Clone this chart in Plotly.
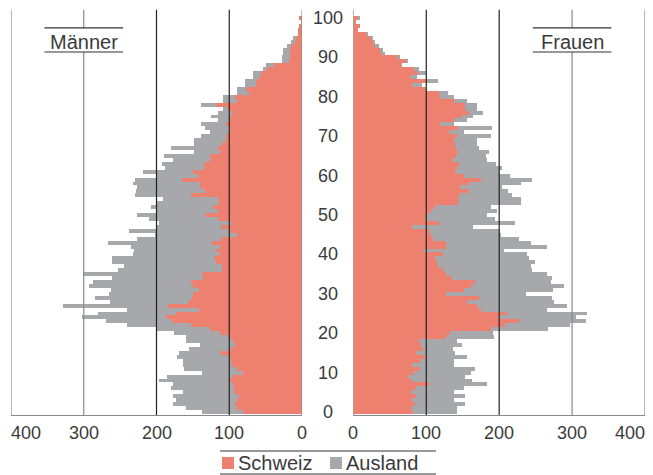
import plotly.graph_objects as go

ages = list(range(0, 101))
age_ticks = list(range(0, 101, 10))
x_ticks = [0, 100, 200, 300, 400]

# Männer (ages 0..100)
m_schweiz = [81, 89, 92, 89, 87, 94, 94, 95, 100, 96,
             81, 89, 96, 98, 100, 113, 97, 92, 95, 100,
             113, 127, 152, 179, 187, 173, 141, 184, 157, 151,
             150, 141, 150, 153, 136, 138, 110, 110, 118, 121,
             114, 118, 113, 124, 111, 89, 101, 112, 97, 115,
             133, 115, 123, 114, 116, 153, 133, 140, 140, 165,
             143, 150, 135, 135, 127, 127, 113, 115, 110, 104,
             104, 100, 100, 104, 99, 98, 96, 102, 118, 89,
             92, 73, 77, 63, 63, 58, 57, 48, 39, 18,
             17, 17, 17, 15, 10, 8, 6, 6, 4, 2, 4]
m_ausland = [56, 71, 85, 84, 90, 70, 86, 82, 96, 89,
             57, 73, 68, 66, 72, 56, 59, 48, 64, 60,
             63, 73, 88, 90, 115, 107, 99, 144, 107, 133,
             115, 122, 143, 134, 125, 163, 143, 134, 143, 140,
             118, 113, 122, 143, 116, 113, 137, 88, 100, 96,
             94, 85, 85, 85, 75, 76, 95, 87, 92, 65,
             57, 69, 54, 57, 50, 63, 35, 65, 38, 44,
             35, 26, 33, 35, 16, 27, 20, 7, 21, 20,
             17, 16, 12, 15, 15, 9, 10, 5, 11, 10,
             11, 9, 9, 5, 5, 4, 0, 0, 0, 0, 0]

# Frauen (ages 0..100)
f_schweiz = [82, 80, 85, 81, 87, 80, 86, 104, 81, 76,
             84, 92, 81, 92, 99, 87, 96, 93, 90, 128,
             133, 189, 208, 228, 200, 211, 176, 170, 156, 173,
             128, 152, 162, 167, 136, 128, 123, 116, 115, 112,
             123, 97, 128, 128, 110, 107, 104, 81, 118, 100,
             101, 107, 112, 144, 144, 145, 159, 147, 159, 176,
             152, 140, 142, 145, 136, 141, 144, 141, 140, 139,
             142, 131, 144, 119, 138, 150, 159, 154, 153, 139,
             119, 118, 100, 81, 100, 78, 89, 84, 66, 72,
             60, 38, 37, 30, 27, 24, 18, 7, 10, 4, 7]
f_ausland = [60, 62, 68, 58, 66, 59, 66, 80, 82, 78,
             78, 75, 57, 47, 57, 53, 41, 57, 52, 66,
             59, 79, 89, 91, 106, 110, 90, 123, 119, 100,
             109, 122, 127, 104, 137, 138, 123, 128, 135, 130,
             116, 110, 138, 116, 117, 96, 97, 84, 104, 95,
             83, 91, 77, 87, 87, 73, 54, 57, 72, 69,
             63, 60, 62, 51, 48, 42, 43, 32, 30, 31,
             47, 21, 47, 19, 19, 15, 19, 16, 17, 18,
             20, 12, 0, 14, 16, 10, 11, 7, 1, 3,
             4, 6, 4, 5, 3, 3, 3, 0, 0, 0, 2]

series_names = ["Schweiz", "Ausland"]
panel_titles = ["Männer", "Frauen"]
c_ch = "#EE8070"
c_aus = "#A7A8AC"
txt = "#3a3a3a"
font_family = "Liberation Sans, Arial, sans-serif"

fig = go.Figure()
fig.add_trace(go.Bar(y=ages, x=m_schweiz, orientation="h", name=series_names[0],
                     marker=dict(color=c_ch, line=dict(width=0)),
                     xaxis="x", yaxis="y", hoverinfo="x+y"))
fig.add_trace(go.Bar(y=ages, x=m_ausland, orientation="h", name=series_names[1],
                     marker=dict(color=c_aus, line=dict(width=0)),
                     xaxis="x", yaxis="y", hoverinfo="x+y"))
fig.add_trace(go.Bar(y=ages, x=f_schweiz, orientation="h", name=series_names[0],
                     marker=dict(color=c_ch, line=dict(width=0)),
                     xaxis="x2", yaxis="y2", hoverinfo="x+y"))
fig.add_trace(go.Bar(y=ages, x=f_ausland, orientation="h", name=series_names[1],
                     marker=dict(color=c_aus, line=dict(width=0)),
                     xaxis="x2", yaxis="y2", hoverinfo="x+y"))

yr = [-0.76, 101.78]
axis_common = dict(showgrid=False, zeroline=False, showline=True, linecolor="#8a8a8a",
                   linewidth=1.2, ticks="", showticklabels=False, automargin=False)
fig.update_layout(
    width=653, height=475,
    margin=dict(l=11, r=8, t=11, b=60, autoexpand=False),
    paper_bgcolor="white", plot_bgcolor="white",
    barmode="stack", bargap=0,
    font=dict(family=font_family, color=txt),
    xaxis=dict(domain=[0, 0.459], range=[400, 0], anchor="y", **axis_common),
    xaxis2=dict(domain=[0.540, 1], range=[0, 400], anchor="y2", **axis_common),
    yaxis=dict(range=yr, showticklabels=False, showgrid=False, zeroline=False, anchor="x",
               automargin=False),
    yaxis2=dict(range=yr, showticklabels=False, showgrid=False, zeroline=False, anchor="x2",
                matches="y", automargin=False),
    showlegend=False,
)

shapes = []
lab_lo, lab_hi = 0.8985, 0.958
for xa in ["x", "x2"]:
    for v, col in [(0, "#8a8a8a"), (100, "#222222"), (200, "#222222"), (400, "#8a8a8a")]:
        shapes.append(dict(type="line", xref=xa, yref="paper", x0=v, x1=v, y0=0, y1=1.003,
                           line=dict(color=col, width=1.2), layer="above"))
    shapes.append(dict(type="line", xref=xa, yref="paper", x0=300, x1=300, y0=0, y1=lab_lo,
                       line=dict(color="#8a8a8a", width=1.2), layer="above"))
    shapes.append(dict(type="line", xref=xa, yref="paper", x0=300, x1=300, y0=lab_hi, y1=1.003,
                       line=dict(color="#8a8a8a", width=1.2), layer="above"))
    for yy in [lab_lo, lab_hi]:
        shapes.append(dict(type="line", xref=xa, yref="paper", x0=246, x1=354, y0=yy, y1=yy,
                           line=dict(color="#333333", width=1.2), layer="above"))

# manual legend (rules, swatches)
W, H, L, T = 634.0, 404.0, 11.0, 11.0
def px_x(px):
    return (px - L) / W
def px_y(py):
    return (T + H - py) / H

for py in [451, 474]:
    shapes.append(dict(type="line", xref="paper", yref="paper", x0=px_x(220), x1=px_x(436),
                       y0=px_y(py), y1=px_y(py), line=dict(color="#333333", width=1.2)))
legend_items = [(series_names[0], c_ch, 222), (series_names[1], c_aus, 330)]
for name, col, sx in legend_items:
    shapes.append(dict(type="rect", xref="paper", yref="paper", x0=px_x(sx), x1=px_x(sx + 12),
                       y0=px_y(469), y1=px_y(457), fillcolor=col, line=dict(width=0)))
fig.update_layout(shapes=shapes)

annotations = []
for a in age_ticks:
    annotations.append(dict(text=str(a), xref="paper", yref="y", x=px_x(327.5), y=a,
                            showarrow=False, xanchor="center", yanchor="middle",
                            font=dict(size=18, color=txt, family=font_family)))
for xa in ["x", "x2"]:
    for v in x_ticks:
        anchor = ("left" if xa == "x" else "right") if v == 400 else "center"
        shift = ((-2 if xa == "x" else 2) if v == 400 else 0)
        annotations.append(dict(text=str(v), xref=xa, yref="paper", x=v, y=px_y(433),
                                showarrow=False, xanchor=anchor, yanchor="middle", xshift=shift,
                                font=dict(size=18, color=txt, family=font_family)))
for xa, title in [("x", panel_titles[0]), ("x2", panel_titles[1])]:
    annotations.append(dict(text=title, xref=xa, yref="paper", x=300, y=px_y(42),
                            showarrow=False, xanchor="center", yanchor="middle",
                            font=dict(size=20, color=txt, family=font_family)))
for name, col, sx in legend_items:
    annotations.append(dict(text=name, xref="paper", yref="paper", x=px_x(sx + 14), y=px_y(463),
                            showarrow=False, xanchor="left", yanchor="middle",
                            font=dict(size=20, color=txt, family=font_family)))
fig.update_layout(annotations=annotations)

fig.write_html("out.html", config={"displayModeBar": False},
               post_script="document.body.style.margin='0';")
